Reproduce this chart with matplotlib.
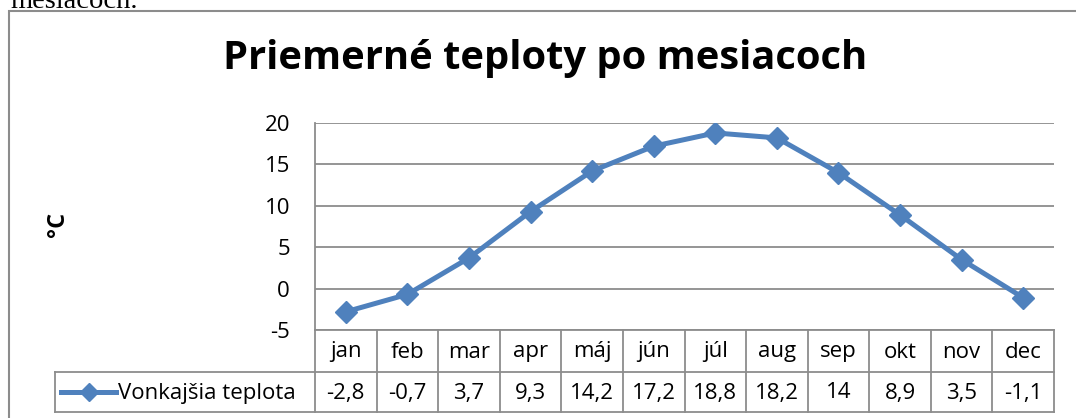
import matplotlib.pyplot as plt
from matplotlib.lines import Line2D
from matplotlib.patches import Rectangle
from matplotlib.transforms import blended_transform_factory

months = ["jan", "feb", "mar", "apr", "máj", "jún", "júl", "aug", "sep", "okt", "nov", "dec"]
temps = [-2.8, -0.7, 3.7, 9.3, 14.2, 17.2, 18.8, 18.2, 14, 8.9, 3.5, -1.1]
series_name = "Vonkajšia teplota"
title = "Priemerné teploty po mesiacoch"

W, H = 1076, 418
blue = "#4F81BD"
grey = "#8c8c8c"
fs = 16
plt.rcParams["font.family"] = ["Open Sans", "DejaVu Sans"]
plt.rcParams["axes.unicode_minus"] = False

fig = plt.figure(figsize=(W / 100, H / 100), dpi=100)


def fx(px):
    return px / W


def fy(py):
    return 1 - py / H


# plot area in pixel terms of the reference
left, right, top, bottom = 315, 1054, 123, 330
ax = fig.add_axes([fx(left), fy(bottom), fx(right) - fx(left), fy(top) - fy(bottom)])
ax.plot(range(len(temps)), temps, color=blue, lw=3.6, marker="D", ms=11.5, zorder=3)
ax.set_xlim(-0.5, len(months) - 0.5)
ax.set_ylim(-5, 20)
ax.set_yticks(range(-5, 21, 5))
ax.set_xticks([])
ax.grid(axis="y", color=grey, lw=1.3)
for s in ["top", "right", "bottom"]:
    ax.spines[s].set_visible(False)
ax.spines["left"].set_color(grey)
ax.spines["left"].set_linewidth(1.3)
ax.tick_params(axis="y", length=0, pad=18, labelsize=fs)

# data table under the plot
tr = blended_transform_factory(ax.transData, fig.transFigure)
row1, row2, row3 = 330, 372, 412
lkw = dict(color=grey, lw=1.3, clip_on=False)
fig.add_artist(Line2D([fx(left), fx(right)], [fy(row1)] * 2, **lkw))
fig.add_artist(Line2D([fx(55), fx(right)], [fy(row2)] * 2, **lkw))
fig.add_artist(Line2D([fx(55), fx(right)], [fy(row3)] * 2, **lkw))
fig.add_artist(Line2D([fx(55)] * 2, [fy(row2), fy(row3)], **lkw))
fig.add_artist(Line2D([fx(left)] * 2, [fy(row1), fy(row3)], **lkw))
for i, (m, v) in enumerate(zip(months, temps)):
    ax.add_line(Line2D([i + 0.5] * 2, [fy(row1), fy(row3)], transform=tr, **lkw))
    ax.text(i, fy((row1 + row2) / 2 + 1), m, transform=tr, ha="center", va="center", fontsize=fs)
    ax.text(i, fy((row2 + row3) / 2 + 1), f"{v:g}".replace(".", ","), transform=tr,
            ha="center", va="center", fontsize=fs)

# legend key inside the table
ky = fy((row2 + row3) / 2)
fig.add_artist(Line2D([fx(61), fx(88.5), fx(116)], [ky] * 3, color=blue, lw=3.6,
                      marker="D", ms=9.5, markevery=[1]))
fig.text(fx(118), fy((row2 + row3) / 2 + 1), series_name, ha="left", va="center", fontsize=fs)

fig.text(fx(545), fy(69), title, ha="center", va="baseline", fontsize=28.7, fontweight="bold")
fig.text(fx(58), fy(224), "°C", rotation=90, ha="center", va="center", fontsize=17, fontweight="bold")

# chart frame and cut-off document text above it
fig.patches.append(Rectangle((fx(9), fy(430)), fx(1090) - fx(9), fy(11) - fy(430),
                             transform=fig.transFigure, fill=False, edgecolor=grey, lw=1.5))
fig.text(fx(10), fy(7.5), "mesiacoch.", family="Liberation Serif", fontsize=20.5, va="baseline")

fig.savefig("out.png", dpi=100)
